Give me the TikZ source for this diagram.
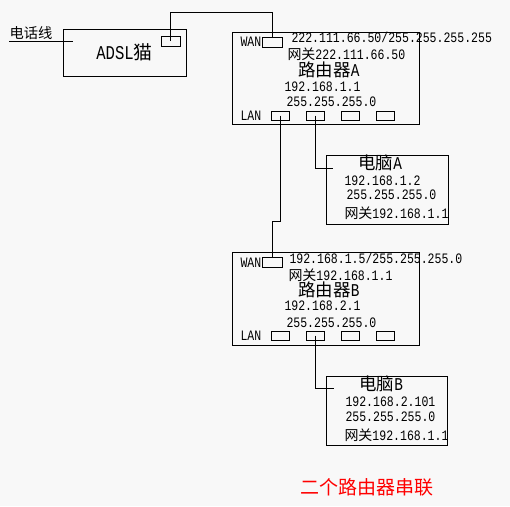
\documentclass[tikz,border=0pt]{standalone}
\usepackage{fontspec}
\setmainfont[FakeStretch=0.8]{Liberation Mono}
\newfontfamily\cjk[Scale=0.97]{Noto Sans CJK SC}
\definecolor{bg}{RGB}{248,248,248}

\begin{document}
\begin{tikzpicture}[x=1pt,y=-1pt,line width=1pt,
    box/.style={draw,inner sep=0pt},
    port/.style={draw,minimum width=18pt,minimum height=9pt,inner sep=0pt},
    txt/.style={anchor=west,inner sep=0pt,font=\fontsize{14.4}{15}\selectfont},
    big/.style={anchor=west,inner sep=0pt,font=\fontsize{18}{19}\selectfont}]
    \fill[bg](0,0)rectangle(510,506);

    % ADSL modem
    \node[box,minimum width=123pt,minimum height=47pt,font=\fontsize{19.5}{20}\selectfont](modem)at(124.5,52.5){ADSL{\cjk 猫}};
    \node[port,minimum width=19pt,minimum height=10pt](mport)at(170.5,41){};
    \node[anchor=west,inner sep=0pt,font=\fontsize{14.7}{15}\selectfont](phone)at(9,33){{\cjk 电话线}};
    \coordinate(phonein)at(73,41);
    \draw(phone.west|-phonein)--(phonein);

    % router A
    \node[box,minimum width=187pt,minimum height=92pt](ra)at(325.5,78){};
    \node[port,minimum width=20pt,minimum height=10pt](rawan)at(272,42){};
    \node[txt](rawanlbl)at(240,42){WAN};
    \node[txt](ralanlbl)at(240,116){LAN};
    \node[txt](raip)at(291,37){222.111.66.50/255.255.255.255};
    \node[txt](ragw)at(287,54){{\cjk 网关}222.111.66.50};
    \node[big](raname)at(298,70){{\cjk 路由器}A};
    \node[txt](ralanip)at(284,87){192.168.1.1};
    \node[txt](ramask)at(286,102){255.255.255.0};

    % router B
    \node[box,minimum width=187pt,minimum height=93pt](rb)at(325.5,298.5){};
    \node[port,minimum width=20pt,minimum height=10pt](rbwan)at(272,262){};
    \node[txt](rbwanlbl)at(240,263){WAN};
    \node[txt](rblanlbl)at(240,336){LAN};
    \node[txt](rbip)at(289,258){192.168.1.5/255.255.255.0};
    \node[txt](rbgw)at(288,275){{\cjk 网关}192.168.1.1};
    \node[big](rbname)at(298,290){{\cjk 路由器}B};
    \node[txt](rblanip)at(284,306){192.168.2.1};
    \node[txt](rbmask)at(286,323){255.255.255.0};

    \foreach \i/\x in {1/280,2/315,3/350,4/385.5}{
        \node[port](ralan\i)at(\x,115.5){};
        \node[port](rblan\i)at(\x,335.5){};
    }

    % PC A
    \node[box,minimum width=122pt,minimum height=69pt](pca)at(387,189.5){};
    \node[big](pcaname)at(358,163){{\cjk 电脑}A};
    \node[txt](pcaip)at(344,181){192.168.1.2};
    \node[txt](pcamask)at(346,195){255.255.255.0};
    \node[txt](pcagw)at(344,213){{\cjk 网关}192.168.1.1};
    \coordinate(pcain)at(333,168);

    % PC B
    \node[box,minimum width=121pt,minimum height=69pt](pcb)at(386.5,410.5){};
    \node[big](pcbname)at(359,384){{\cjk 电脑}B};
    \node[txt](pcbip)at(345,402){192.168.2.101};
    \node[txt](pcbmask)at(345,417){255.255.255.0};
    \node[txt](pcbgw)at(344,435){{\cjk 网关}192.168.1.1};
    \coordinate(pcbin)at(334,388);

    % wires
    \draw(mport.center)--++(0,-29)-|(rawan.north);
    \draw(ralan1.center)--++(0,105.5)-|(rbwan.north);
    \draw(ralan2.center)|-(pcain);
    \draw(rblan2.center)|-(pcbin);

    \node[anchor=west,inner sep=0pt,text=red,font=\fontsize{19.6}{20}\selectfont](title)at(300,487){{\cjk 二个路由器串联}};
\end{tikzpicture}
\end{document}
